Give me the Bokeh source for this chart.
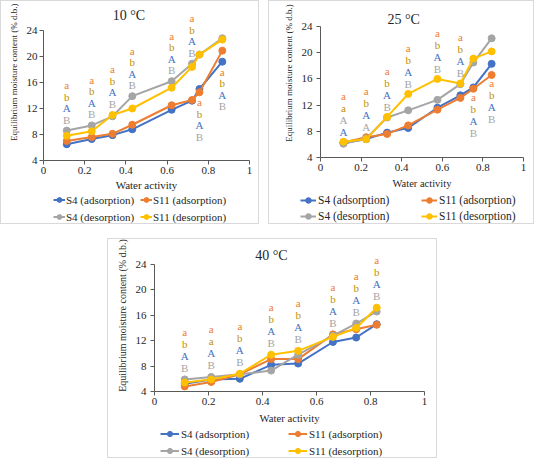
import math
from bokeh.plotting import figure
from bokeh.models import (ColumnDataSource, Range1d, FixedTicker, Legend, LegendItem,
                          Label, Spacer, CustomJSTickFormatter)
from bokeh.layouts import column, row
from bokeh.embed import file_html
from bokeh.resources import INLINE
from bokeh.core.properties import value

FONT = "Liberation Serif"
TXT = "#262626"
AXC = "#595959"
BORDER = "1px solid #d9d9d9"

# ---------------- data ----------------
aw_10 = [0.113, 0.234, 0.335, 0.431, 0.622, 0.721, 0.757, 0.868]
s4_ads_10 = [6.5, 7.3, 7.9, 8.8, 11.8, 13.2, 15.0, 19.2]
s11_ads_10 = [7.0, 7.6, 8.1, 9.5, 12.5, 13.3, 14.5, 20.9]
s4_des_10 = [8.6, 9.4, 10.8, 13.9, 16.2, 18.9, 20.3, 22.8]
s11_des_10 = [7.8, 8.5, 11.0, 12.0, 15.2, 18.4, 20.3, 22.6]
lab_10 = ["abAB"] * 8
clr_10 = ["OYBG"] * 8
side_10 = ["up"] * 6 + ["down"] * 2

aw_25 = [0.113, 0.225, 0.328, 0.432, 0.576, 0.689, 0.753, 0.843]
s4_ads_25 = [6.2, 6.8, 7.8, 8.5, 11.6, 13.5, 14.7, 18.3]
s11_ads_25 = [6.3, 7.1, 7.6, 8.9, 11.3, 13.1, 14.5, 16.6]
s4_des_25 = [6.1, 6.9, 10.1, 11.2, 12.8, 15.2, 18.5, 22.2]
s11_des_25 = [6.4, 6.8, 10.2, 13.7, 16.0, 15.3, 19.1, 20.2]
lab_25 = ["aaAA", "abAA"] + ["abAB"] * 6
clr_25 = ["OYGB", "OYBG"] + ["OYBG"] * 6
side_25 = ["up"] * 6 + ["down"] * 2

aw_40 = [0.112, 0.21, 0.316, 0.432, 0.532, 0.661, 0.747, 0.823]
s4_ads_40 = [5.2, 5.9, 6.0, 8.2, 8.4, 11.8, 12.5, 14.6]
s11_ads_40 = [4.8, 5.5, 6.7, 9.1, 9.1, 13.0, 13.8, 14.5]
s4_des_40 = [5.9, 6.3, 6.7, 7.3, 9.8, 12.8, 14.7, 16.6]
s11_des_40 = [5.4, 5.9, 6.8, 9.8, 10.4, 12.6, 14.0, 17.2]
lab_40 = ["abAB", "aaAB"] + ["abAB"] * 6
clr_40 = ["OYBG"] * 8
side_40 = ["up"] * 8

series_names = ["S4 (adsorption)", "S11 (adsorption)", "S4 (desorption)", "S11 (desorption)"]
x_ticks = [0, 0.2, 0.4, 0.6, 0.8, 1]
y_ticks = [4, 8, 12, 16, 20, 24]
y_title = "Equilibrium moisture content (% d.b.)"
x_title = "Water activity"

SERIES_COL = ["#4472C4", "#ED7D31", "#A5A5A5", "#FFC000"]
LETTER_COL = {"O": "#ED7D31", "Y": "#BF9000", "B": "#4472C4", "G": "#A5A5A5"}


def bare(width, height, xr, yr, borders):
    f = figure(width=width, height=height, x_range=xr, y_range=yr,
               x_axis_type=None, y_axis_type=None, output_backend="svg",
               toolbar_location=None, min_border=0)
    f.outline_line_color = None
    f.background_fill_color = "white"
    f.border_fill_color = "white"
    st = {"box-sizing": "border-box"}
    for b in borders:
        st["border-" + b] = BORDER
    f.styles = st
    return f


def make_panel(title, aw, series, labs, clrs, sides, g):
    wl = g["wl"]
    Wm = g["Wt"] - wl
    p = figure(width=Wm, height=g["Hm"], x_range=Range1d(0, 1),
               y_range=Range1d(4, g["yend"]), output_backend="svg",
               toolbar_location=None, min_border_left=g["L"], min_border_right=g["R"],
               min_border_top=0, min_border_bottom=g["B"])
    p.background_fill_color = "white"
    p.border_fill_color = "white"
    p.outline_line_color = None
    p.xgrid.visible = False
    p.ygrid.visible = False
    p.styles = {"border-top": BORDER, "border-right": BORDER, "box-sizing": "border-box"}

    xa = p.xaxis[0]
    ya = p.yaxis[0]
    xa.ticker = FixedTicker(ticks=x_ticks)
    xa.formatter = CustomJSTickFormatter(code="return String(Math.round(tick*10)/10);")
    ya.ticker = FixedTicker(ticks=y_ticks)
    ya.bounds = (4, 24)
    xa.axis_label = x_title
    for ax in (xa, ya):
        ax.axis_line_color = AXC
        ax.major_tick_line_color = AXC
        ax.major_tick_in = 0
        ax.major_tick_out = 4
        ax.minor_tick_line_color = None
        ax.major_label_text_font = FONT
        ax.major_label_text_font_size = "11px"
        ax.major_label_text_color = TXT
        ax.axis_label_text_font = FONT
        ax.axis_label_text_font_style = "normal"
        ax.axis_label_text_color = TXT
    xa.major_label_standoff = 2
    ya.major_label_standoff = g["ystand"]
    xa.axis_label_text_font_size = g["xlab_fs"]
    xa.axis_label_standoff = g["xlab_st"]

    for vals, col in zip(series, SERIES_COL):
        src = ColumnDataSource(dict(x=aw, y=vals))
        p.line("x", "y", source=src, line_color=col, line_width=2)
        p.scatter("x", "y", source=src, marker="circle", size=7,
                  fill_color=col, line_color=col)

    # significance letters, stacked above / below the points
    lx, ly, lyo, lt, lc = [], [], [], [], []
    for i, a in enumerate(aw):
        vals = [s[i] for s in series]
        for k, (ch, cc) in enumerate(zip(labs[i], clrs[i])):
            lx.append(a)
            lt.append(ch)
            lc.append(LETTER_COL[cc])
            if sides[i] == "up":
                ly.append(max(vals))
                lyo.append(-(g["gap_up"] + (3 - k) * g["step"]))
            else:
                ly.append(min(vals))
                lyo.append(g["gap_dn"] + k * g["step"])
    lsrc = ColumnDataSource(dict(x=lx, y=ly, yo=lyo, t=lt, c=lc))
    p.text("x", "y", text="t", source=lsrc, y_offset="yo", text_color="c",
           text_font=value(FONT), text_font_size="11px", text_align="center",
           text_baseline="middle")

    p.add_layout(Label(x=g["tx"], y=g["ty"], text=title, text_font=FONT,
                       text_font_size="14px", text_color=TXT, text_align="center",
                       text_baseline="middle"))

    # y axis title in its own strip
    yl = bare(wl, g["Hm"], Range1d(0, wl), Range1d(0, g["Hm"]), ["top", "left"])
    yl.text(x=[g["yx"]], y=[g["Hm"] - g["yy"]], text=[y_title], angle=math.pi / 2,
            text_font=value(FONT), text_font_size=g["ylab_fs"], text_color=TXT,
            text_align="center", text_baseline="middle")

    # legend strip under the plot (full panel width)
    Hl = g["Ht"] - g["Hm"]
    lf = bare(g["Wt"], Hl, Range1d(0, 1), Range1d(0, 1), ["left", "right", "bottom"])
    rends = []
    for vals, col in zip(series, SERIES_COL):
        src = ColumnDataSource(dict(x=aw, y=vals))
        l = lf.line("x", "y", source=src, line_color=col, line_width=2)
        s = lf.scatter("x", "y", source=src, marker="circle", size=7,
                       fill_color=col, line_color=col)
        rends.append([l, s])
    for idx, vx in (((0, 2), g["lx1"]), ((1, 3), g["lx2"])):
        items = [LegendItem(label=series_names[i], renderers=rends[i]) for i in idx]
        leg = Legend(items=items, location=(vx, g["ly"]), orientation="vertical",
                     padding=0, margin=0, spacing=g["lsp"], label_height=g["lh"],
                     glyph_height=g["lh"], glyph_width=g["gw"], label_standoff=g["lst"],
                     border_line_color=None, background_fill_alpha=0,
                     label_text_font=FONT, label_text_font_size=g["lfs"],
                     label_text_color=TXT)
        lf.add_layout(leg, "center")

    return column(row(yl, p), lf)


g1 = dict(Wt=259, Ht=224, wl=22, Hm=193, L=21, R=10, B=34, yend=28.46, ystand=2,
          xlab_fs="11px", xlab_st=2, ylab_fs="9px", yx=12, yy=86,
          gap_up=11, gap_dn=10, step=11.5, tx=0.415, ty=26.3,
          lx1=52, lx2=139, ly=1, lh=13, lsp=4, gw=12, lst=1, lfs="11px")
g2 = dict(Wt=266, Ht=224, wl=28, Hm=192, L=24, R=11, B=36, yend=27.82, ystand=4,
          xlab_fs="10.5px", xlab_st=4, ylab_fs="9px", yx=19, yy=88,
          gap_up=10, gap_dn=8, step=12, tx=0.41, ty=25.07,
          lx1=31, lx2=152, ly=1, lh=14, lsp=2, gw=16, lst=2, lfs="11.5px")
g3 = dict(Wt=330, Ht=220, wl=24, Hm=188, L=23, R=13, B=36, yend=27.94, ystand=4,
          xlab_fs="10.7px", xlab_st=4, ylab_fs="10px", yx=14, yy=94,
          gap_up=11.5, gap_dn=8, step=12, tx=0.433, ty=25.4,
          lx1=52, lx2=180, ly=1, lh=13, lsp=4, gw=19, lst=2, lfs="11px")

panel1 = make_panel("10 °C", aw_10, [s4_ads_10, s11_ads_10, s4_des_10, s11_des_10],
                    lab_10, clr_10, side_10, g1)
panel2 = make_panel("25 °C", aw_25, [s4_ads_25, s11_ads_25, s4_des_25, s11_des_25],
                    lab_25, clr_25, side_25, g2)
panel3 = make_panel("40 °C", aw_40, [s4_ads_40, s11_ads_40, s4_des_40, s11_des_40],
                    lab_40, clr_40, side_40, g3)

layout = column(row(panel1, Spacer(width=9), panel2), Spacer(height=14),
                row(Spacer(width=107), panel3))

open("out.html", "w").write(file_html(layout, INLINE))
